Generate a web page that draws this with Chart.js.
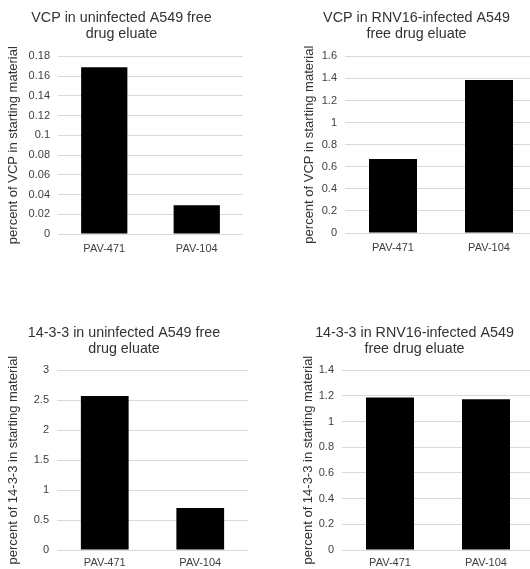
<!DOCTYPE html>
<html>
<head>
<meta charset="utf-8">
<script src="https://cdn.jsdelivr.net/npm/chart.js@4.4.0/dist/chart.umd.min.js"></script>
<style>
  html, body { margin: 0; padding: 0; background: #fff; }
  body { width: 530px; height: 569px; overflow: hidden; position: relative; }
  .box { position: absolute; }
</style>
</head>
<body>
<div class="box" style="left:0px;top:0px;width:243px;height:260px"><canvas id="c1"></canvas></div>
<div class="box" style="left:296px;top:0px;width:241px;height:260px"><canvas id="c2"></canvas></div>
<div class="box" style="left:0px;top:310px;width:248px;height:259px"><canvas id="c3"></canvas></div>
<div class="box" style="left:295px;top:310px;width:239px;height:259px"><canvas id="c4"></canvas></div>
<script>
// categories
var drugs = ["PAV-471", "PAV-104"];

// series values (percent of protein in starting material)
var vcpUninfected = [0.169, 0.029];
var vcpInfected = [0.670, 1.386];
var p1433Uninfected = [2.57, 0.70];
var p1433Infected = [1.189, 1.174];

// tick labels
var vcpUninfectedTicks = ["0", "0.02", "0.04", "0.06", "0.08", "0.1", "0.12", "0.14", "0.16", "0.18"];
var vcpInfectedTicks = ["0", "0.2", "0.4", "0.6", "0.8", "1", "1.2", "1.4", "1.6"];
var p1433UninfectedTicks = ["0", "0.5", "1", "1.5", "2", "2.5", "3"];
var p1433InfectedTicks = ["0", "0.2", "0.4", "0.6", "0.8", "1", "1.2", "1.4"];

var font = "'Liberation Sans', Arial, sans-serif";

function makeChart(id, title, yTitle, values, tickLabels, yWidth, xHeight, xPad, titleTop, titleBottom) {
    var ctx = document.getElementById(id);
    var nums = tickLabels.map(function(t){ return parseFloat(t); });
    return new Chart(ctx, {
        type: 'bar',
        data: {
            labels: drugs,
            datasets: [{
                data: values,
                backgroundColor: "#000000",
                borderColor: "#000000",
                borderWidth: 0,
                categoryPercentage: 1.0,
                barPercentage: 0.5
            }]
        },
        options: {
            responsive: true,
            maintainAspectRatio: false,
            animation: false,
            layout: { padding: 0 },
            plugins: {
                legend: { display: false },
                tooltip: { enabled: false },
                title: {
                    display: true,
                    text: title,
                    color: "#333333",
                    font: { family: font, size: 14.3, weight: 'normal', lineHeight: 1.13 },
                    padding: { top: titleTop, bottom: titleBottom }
                }
            },
            scales: {
                x: {
                    grid: { display: false, drawTicks: false },
                    border: { display: false },
                    ticks: { color: "#404040", font: { family: font, size: 11 }, padding: xPad },
                    afterFit: function(s){ s.height = xHeight; }
                },
                y: {
                    min: nums[0],
                    max: nums[nums.length - 1],
                    afterBuildTicks: function(s){
                        s.ticks = nums.map(function(v){ return { value: v }; });
                    },
                    grid: { color: "#d9d9d9", lineWidth: 1, drawTicks: false },
                    border: { display: false },
                    ticks: {
                        color: "#404040",
                        font: { family: font, size: 11 },
                        padding: 8,
                        callback: function(v, i){ return tickLabels[i]; }
                    },
                    title: {
                        display: true,
                        text: yTitle,
                        color: "#333333",
                        font: { family: font, size: 13 },
                        padding: { top: 6, bottom: 0 }
                    },
                    afterFit: function(s){ s.width = yWidth; }
                }
            }
        }
    });
}

makeChart("c1", ["VCP in uninfected A549 free", "drug eluate"], "percent of VCP in starting material",
    vcpUninfected, vcpUninfectedTicks, 58, 26, 8, 10, 14);
makeChart("c2", ["VCP in RNV16-infected A549", "free drug eluate"], "percent of VCP in starting material",
    vcpInfected, vcpInfectedTicks, 49, 27, 8, 10, 14);
makeChart("c3", ["14-3-3 in uninfected A549 free", "drug eluate"], "percent of 14-3-3 in starting material",
    p1433Uninfected, p1433UninfectedTicks, 57, 19, 6, 15, 13);
makeChart("c4", ["14-3-3 in RNV16-infected A549", "free drug eluate"], "percent of 14-3-3 in starting material",
    p1433Infected, p1433InfectedTicks, 47, 19, 6, 15, 13);
</script>
</body>
</html>
